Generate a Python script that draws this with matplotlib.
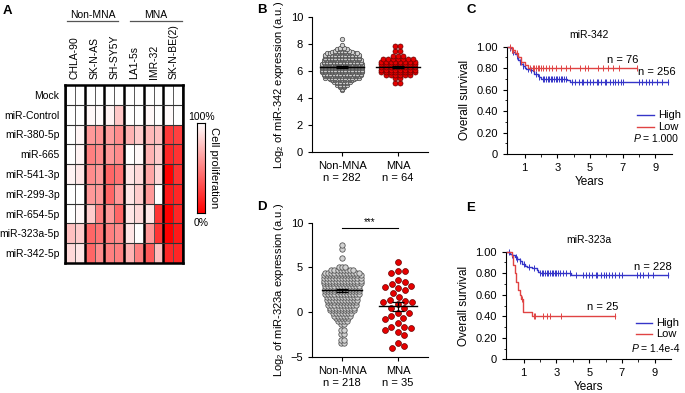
import numpy as np
import matplotlib
matplotlib.use('Agg')
import matplotlib.pyplot as plt
from matplotlib.colors import LinearSegmentedColormap
from matplotlib.transforms import blended_transform_factory

plt.rcParams['font.family'] = ['Liberation Sans', 'DejaVu Sans']
plt.rcParams['mathtext.fontset'] = 'custom'
plt.rcParams['mathtext.rm'] = 'Liberation Sans'
plt.rcParams['mathtext.it'] = 'Liberation Sans:italic'
plt.rcParams['font.size'] = 7.5
plt.rcParams['axes.linewidth'] = 0.8

# ---- A: heatmap ----
cell_lines = ['CHLA-90', 'SK-N-AS', 'SH-SY5Y', 'LA1-5s', 'IMR-32', 'SK-N-BE(2)']
groups = ['Non-MNA', 'MNA']
mirnas = ['Mock', 'miR-Control', 'miR-380-5p', 'miR-665', 'miR-541-3p',
          'miR-299-3p', 'miR-654-5p', 'miR-323a-5p', 'miR-342-5p']
# two replicates per cell line, fraction of proliferation (1 = 100%)
proliferation = [
    [1.00, 1.00, 1.00, 1.00, 1.00, 1.00, 1.00, 1.00, 1.00, 1.00, 1.00, 1.00],
    [1.00, 1.00, 0.97, 0.98, 0.95, 0.78, 1.00, 1.00, 0.97, 1.00, 0.98, 1.00],
    [1.00, 0.96, 0.60, 0.58, 0.62, 0.55, 0.70, 0.80, 0.72, 0.75, 0.22, 0.25],
    [1.00, 0.95, 0.50, 0.55, 0.60, 0.55, 1.00, 0.97, 0.70, 0.80, 0.15, 0.20],
    [0.95, 0.90, 0.55, 0.60, 0.40, 0.45, 0.90, 0.85, 0.65, 0.85, 0.00, 0.20],
    [1.00, 1.00, 0.60, 0.60, 0.40, 0.60, 0.90, 0.80, 0.60, 1.00, 0.10, 0.15],
    [1.00, 0.97, 0.80, 0.50, 0.60, 0.40, 0.90, 0.85, 0.90, 0.20, 0.00, 0.15],
    [0.75, 0.80, 0.40, 0.45, 0.50, 0.55, 0.90, 1.00, 0.60, 0.20, 0.00, 0.10],
    [0.85, 0.90, 0.40, 0.55, 0.50, 0.50, 0.70, 0.50, 0.35, 0.75, 0.15, 0.15],
]

# ---- B: miR-342 expression ----
b_labels = ['Non-MNA\nn = 282', 'MNA\nn = 64']
b_nonmna_levels = [4.6, 4.7, 4.8, 4.9, 5.0, 5.1, 5.2, 5.3, 5.4, 5.5, 5.6, 5.7, 5.8,
                   5.9, 6.0, 6.1, 6.2, 6.3, 6.4, 6.5, 6.6, 6.7, 6.8, 6.9, 7.0, 7.1,
                   7.2, 7.3, 7.4, 7.5, 7.6, 7.7, 7.9, 8.35]
b_nonmna_counts = [1, 1, 2, 2, 4, 4, 6, 7, 8, 11, 11, 12, 12,
                   13, 13, 13, 13, 13, 13, 13, 12, 12, 12, 11, 11, 11,
                   11, 10, 7, 5, 4, 2, 1, 1]
b_mna_levels = [5.1, 5.5, 5.7, 5.9, 6.1, 6.3, 6.5, 6.7, 6.9, 7.1, 7.5, 7.85]
b_mna_counts = [2, 2, 6, 8, 8, 8, 8, 8, 7, 3, 2, 2]
b_means = [6.3, 6.3]
b_sems = [0.05, 0.07]

# ---- D: miR-323a expression ----
d_labels = ['Non-MNA\nn = 218', 'MNA\nn = 35']
d_nonmna_levels = [-3.5, -3.1, -2.5, -2.0, -1.3, -1.0, -0.7, -0.4, -0.1, 0.2, 0.5,
                   0.8, 1.1, 1.4, 1.7, 2.0, 2.3, 2.6, 2.9, 3.2, 3.5, 3.8, 4.1,
                   4.4, 4.7, 5.0, 6.0, 7.1, 7.5]
d_nonmna_counts = [2, 2, 2, 2, 2, 4, 5, 6, 7, 9, 9,
                   10, 10, 11, 11, 12, 12, 12, 12, 13, 13, 13, 13,
                   12, 8, 3, 1, 1, 1]
d_mna_values = [5.56, 4.63, 4.63, 4.33, 3.58, 3.39, 3.10, 2.91, 2.83, 2.65, 2.46,
                2.09, 1.71, 1.34, 1.23, 1.15, 1.15, 0.86, 0.48, 0.41, -0.15,
                -0.15, -0.45, -0.64, -0.82, -1.27, -1.65, -1.65, -1.76, -2.02,
                -2.2, -2.58, -3.5, -3.8, -4.0]
d_means = [2.45, 0.62]
d_sems = [0.18, 0.45]

# ---- C: survival miR-342 ----
c_high_t = [0, 0.1, 0.2, 0.3, 0.4, 0.5, 0.6, 0.7, 0.8, 0.9, 1.0, 1.1, 1.3, 1.5,
            1.6, 1.8, 1.9, 2.0, 3.6, 3.8]
c_high_s = [1.0, 0.99, 0.97, 0.95, 0.93, 0.91, 0.88, 0.86, 0.84, 0.82, 0.80, 0.79,
            0.78, 0.77, 0.75, 0.73, 0.72, 0.70, 0.69, 0.67]
c_high_end = 9.8
c_high_cens = [0.1, 0.2, 0.3, 0.5, 0.7, 0.9, 1.2, 1.4, 1.7, 1.9, 2.1, 2.2, 2.3,
               2.4, 2.5, 2.6, 2.7, 2.8, 2.9, 3.0, 3.1, 3.2, 3.3, 3.4, 3.5, 3.9,
               4.1, 4.3, 4.5, 4.6, 4.8, 5.0, 5.2, 5.4, 5.5, 5.7, 5.9, 6.0, 6.2,
               6.4, 6.5, 6.7, 6.9, 7.0, 8.0, 8.2, 8.4, 8.6, 8.8, 9.1, 9.4, 9.8]
c_low_t = [0, 0.2, 0.4, 0.6, 0.8, 1.0, 1.2]
c_low_s = [1.0, 0.97, 0.94, 0.90, 0.86, 0.83, 0.80]
c_low_end = 7.9
c_low_cens = [0.1, 0.2, 0.3, 0.5, 0.8, 1.3, 1.5, 1.6, 1.7, 1.8, 1.9, 2.0, 2.1,
              2.3, 2.5, 2.7, 2.9, 3.2, 3.5, 3.8, 4.4, 4.7, 4.9, 5.5, 5.8, 6.1,
              6.4, 6.8, 7.9]

# ---- E: survival miR-323a ----
e_high_t = [0, 0.15, 0.3, 0.45, 0.6, 0.75, 0.9, 1.05, 1.2, 1.5, 1.8, 1.9, 2.0, 3.9]
e_high_s = [1.0, 0.98, 0.97, 0.95, 0.93, 0.91, 0.89, 0.87, 0.86, 0.85, 0.83,
            0.81, 0.80, 0.78]
e_high_end = 9.8
e_high_cens = [0.1, 0.3, 0.5, 0.6, 0.8, 1.0, 1.3, 1.6, 2.0, 2.1, 2.2, 2.3, 2.4,
               2.5, 2.6, 2.7, 2.8, 2.9, 3.0, 3.1, 3.2, 3.4, 3.6, 3.8, 4.2, 4.6,
               4.8, 5.0, 5.2, 5.4, 5.5, 5.7, 5.9, 6.0, 6.2, 6.4, 6.6, 6.8, 7.0,
               7.9, 8.1, 8.3, 8.6, 8.9, 9.8]
e_low_t = [0, 0.3, 0.35, 0.45, 0.55, 0.65, 0.75, 0.85, 0.95, 1.5]
e_low_s = [1.0, 0.96, 0.88, 0.80, 0.72, 0.64, 0.60, 0.56, 0.44, 0.40]
e_low_end = 6.6
e_low_cens = [0.9, 1.6, 1.7, 2.2, 2.4, 2.6, 3.3, 6.6]

BLUE = '#3535c8'
RED = '#e04343'

W, H = 685, 393
fig = plt.figure(figsize=(W / 100, H / 100), dpi=100)


def px_axes(x0, y0, x1, y1):
    return fig.add_axes([x0 / W, 1 - y1 / H, (x1 - x0) / W, (y1 - y0) / H])


def letter(x, y, s):
    fig.text(x / W, 1 - y / H, s, fontsize=9.5, weight='bold', ha='center', va='center')


# ---------------- A ----------------
cmap = LinearSegmentedColormap.from_list('wr', ['#ff0000', '#ffffff'])
ax = px_axes(65, 85, 183, 263)
data = np.array(proliferation)
ax.pcolormesh(np.arange(13), np.arange(10), data, cmap=cmap, vmin=0, vmax=1)
ax.set_xlim(0, 12)
ax.set_ylim(9, 0)
for i in range(13):
    if i % 2:
        ax.axvline(i, color='#555555', lw=0.7)
    else:
        ax.axvline(i, color='black', lw=1.8)
for j in range(1, 9):
    ax.axhline(j, color='#333333', lw=0.8)
for sp in ax.spines.values():
    sp.set_linewidth(1.8)
ax.set_yticks(np.arange(9) + 0.5)
ax.set_yticklabels(mirnas, fontsize=7.5)
ax.xaxis.tick_top()
ax.set_xticks(np.arange(1, 12, 2))
ax.set_xticklabels(cell_lines, rotation=90, fontsize=7.5)
ax.tick_params(length=0, pad=4)

tr = blended_transform_factory(ax.transData, fig.transFigure)
for g, (x0, x1) in zip(groups, [(0.2, 5.4), (6.6, 11.9)]):
    ax.plot([x0, x1], [1 - 20.7 / H] * 2, color='#555555', lw=0.9,
            transform=tr, clip_on=False)
    ax.text((x0 + x1) / 2, 1 - 14.5 / H, g, transform=tr, ha='center',
            va='center', fontsize=7.5)

cax = px_axes(197, 123, 205, 213)
cax.imshow(np.linspace(1, 0, 256).reshape(-1, 1), cmap=cmap, aspect='auto',
           vmin=0, vmax=1)
cax.set_xticks([])
cax.set_yticks([])
fig.text(201.5 / W, 1 - 116.5 / H, '100%', ha='center', va='center', fontsize=7.5)
fig.text(201.5 / W, 1 - 223 / H, '0%', ha='center', va='center', fontsize=7.5)
fig.text(214 / W, 1 - 168 / H, 'Cell proliferation', rotation=-90, ha='center',
         va='center', fontsize=8)
letter(7.5, 11, 'A')


# ---------------- B / D ----------------
def swarm(ax, x0, levels, counts, dx, **kw):
    xs, ys = [], []
    for lv, n in zip(levels, counts):
        off = (np.arange(n) - (n - 1) / 2) * dx
        xs.extend(x0 + off)
        ys.extend([lv] * n)
    ax.scatter(xs, ys, **kw)


def beeswarm(ax, x0, values, d, **kw):
    # spread points sideways (in pixels) so they do not overlap
    sx = ax.bbox.width / (ax.get_xlim()[1] - ax.get_xlim()[0])
    sy = ax.bbox.height / (ax.get_ylim()[1] - ax.get_ylim()[0])
    vals = np.array(values)
    cands = [0.0]
    for k in range(1, 120):
        cands += [k * 0.5, -k * 0.5]
    placed = []
    xs = np.zeros(len(vals))
    for i in np.argsort(-vals):
        y = vals[i] * sy
        for c in cands:
            if all((c - px) ** 2 + (y - py) ** 2 >= d * d for px, py in placed):
                break
        placed.append((c, y))
        xs[i] = x0 + c / sx
    ax.scatter(xs, vals, **kw)


def mean_sem(ax, x0, m, s, half):
    ax.plot([x0 - half, x0 + half], [m, m], color='black', lw=1.0, zorder=5)
    ax.errorbar([x0], [m], yerr=[s], fmt='none', ecolor='black', elinewidth=0.9,
                capsize=4, capthick=0.9, zorder=5)


def style_dot(ax, labels, ylim, yticks, ylabel):
    ax.set_xlim(0.46, 2.54)
    ax.set_ylim(*ylim)
    ax.set_yticks(yticks)
    ax.set_xticks([1, 2])
    ax.set_xticklabels(labels, fontsize=8, linespacing=1.3)
    ax.tick_params(labelsize=8, length=3, width=0.8)
    ax.spines['top'].set_visible(False)
    ax.spines['right'].set_visible(False)
    ax.set_ylabel(ylabel, fontsize=8, labelpad=3)


axb = px_axes(312, 17, 428, 152)
style_dot(axb, b_labels, (0, 10), [0, 2, 4, 6, 8, 10],
          r'Log$_2$ of miR-342 expression (a.u.)')
swarm(axb, 1, b_nonmna_levels, b_nonmna_counts, 0.06, s=10, facecolor='#d2d2d2',
      edgecolor='#4d4d4d', linewidths=0.55, zorder=3)
swarm(axb, 2, b_mna_levels, b_mna_counts, 0.088, s=13, facecolor='#e60000',
      edgecolor='#6a0000', linewidths=0.5, zorder=3)
for k in range(2):
    mean_sem(axb, k + 1, b_means[k], b_sems[k], 0.40)
letter(262, 10, 'B')

axd = px_axes(312, 222.7, 428, 356.7)
style_dot(axd, d_labels, (-5, 10), [-5, 0, 5, 10],
          r'Log$_2$ of miR-323a expression (a.u.)')
swarm(axd, 1, d_nonmna_levels, d_nonmna_counts, 0.055, s=15, facecolor='#d2d2d2',
      edgecolor='#4d4d4d', linewidths=0.55, zorder=3)
beeswarm(axd, 2, d_mna_values, 7.0, s=18, facecolor='#e60000',
         edgecolor='#6a0000', linewidths=0.5, zorder=3)
for k in range(2):
    mean_sem(axd, k + 1, d_means[k], d_sems[k], 0.36 if k == 0 else 0.34)
axd.plot([1, 2], [9.4, 9.4], color='black', lw=0.8)
axd.text(1.5, 9.55, '***', ha='center', va='bottom', fontsize=7)
letter(262, 207, 'D')


# ---------------- C / E ----------------
def km(ax, t, s, end, cens, color):
    tt = list(t) + [end]
    ss = list(s) + [s[-1]]
    ax.step(tt, ss, where='post', color=color, lw=1.0, zorder=3, clip_on=False)
    idx = np.searchsorted(np.array(t), np.array(cens), side='right') - 1
    ax.plot(cens, np.array(s)[idx], '|', color=color, ms=4, mew=0.7,
            zorder=3, clip_on=False)


def style_km(ax, title):
    ax.set_xlim(-0.1, 10)
    ax.set_ylim(0, 1.0)
    ax.set_yticks([0, 0.2, 0.4, 0.6, 0.8, 1.0])
    ax.set_yticklabels(['0', '0.20', '0.40', '0.60', '0.80', '1.00'])
    ax.set_yticks(np.arange(0.1, 1.0, 0.2), minor=True)
    ax.set_xticks([1, 3, 5, 7, 9])
    ax.set_xticks([2, 4, 6, 8], minor=True)
    ax.tick_params(labelsize=8, length=3, width=0.8)
    ax.tick_params(which='minor', length=1.8, width=0.6)
    ax.spines['top'].set_visible(False)
    ax.spines['right'].set_visible(False)
    ax.set_ylabel('Overall survival', fontsize=8.5, labelpad=4)
    ax.set_xlabel('Years', fontsize=8.5, labelpad=2)
    ax.set_title(title, fontsize=7.5, pad=6)


def km_legend(ax, x0, x1, ys, pval):
    ax.plot([x0, x1], [ys[0]] * 2, color=BLUE, lw=1.0, clip_on=False)
    ax.plot([x0, x1], [ys[1]] * 2, color=RED, lw=1.0, clip_on=False)
    ax.text(x1 + 0.25, ys[0], 'High', va='center', fontsize=8)
    ax.text(x1 + 0.25, ys[1], 'Low', va='center', fontsize=8)
    ax.text(x0 - 0.25, ys[2], 'P', style='italic', va='center', fontsize=7.5)
    ax.annotate('= ' + pval, (x0 - 0.25, ys[2]), xytext=(7, 0),
                textcoords='offset points', va='center', fontsize=7.5)


axc = px_axes(506.7, 46.7, 671.7, 154)
km(axc, c_high_t, c_high_s, c_high_end, c_high_cens, BLUE)
km(axc, c_low_t, c_low_s, c_low_end, c_low_cens, RED)
style_km(axc, 'miR-342')
axc.text(7.0, 0.875, 'n = 76', ha='center', va='center', fontsize=8)
axc.text(9.1, 0.765, 'n = 256', ha='center', va='center', fontsize=8)
km_legend(axc, 7.9, 8.9, [0.363, 0.254, 0.137], '1.000')
letter(471, 10, 'C')

axe = px_axes(505.7, 251.7, 671, 359.3)
km(axe, e_high_t, e_high_s, e_high_end, e_high_cens, BLUE)
km(axe, e_low_t, e_low_s, e_low_end, e_low_cens, RED)
style_km(axe, 'miR-323a')
axe.text(8.88, 0.86, 'n = 228', ha='center', va='center', fontsize=8)
axe.text(5.8, 0.49, 'n = 25', ha='center', va='center', fontsize=8)
km_legend(axe, 7.84, 8.86, [0.34, 0.232, 0.096], '1.4e-4')
letter(471, 208, 'E')

fig.savefig('out.png', dpi=100)
